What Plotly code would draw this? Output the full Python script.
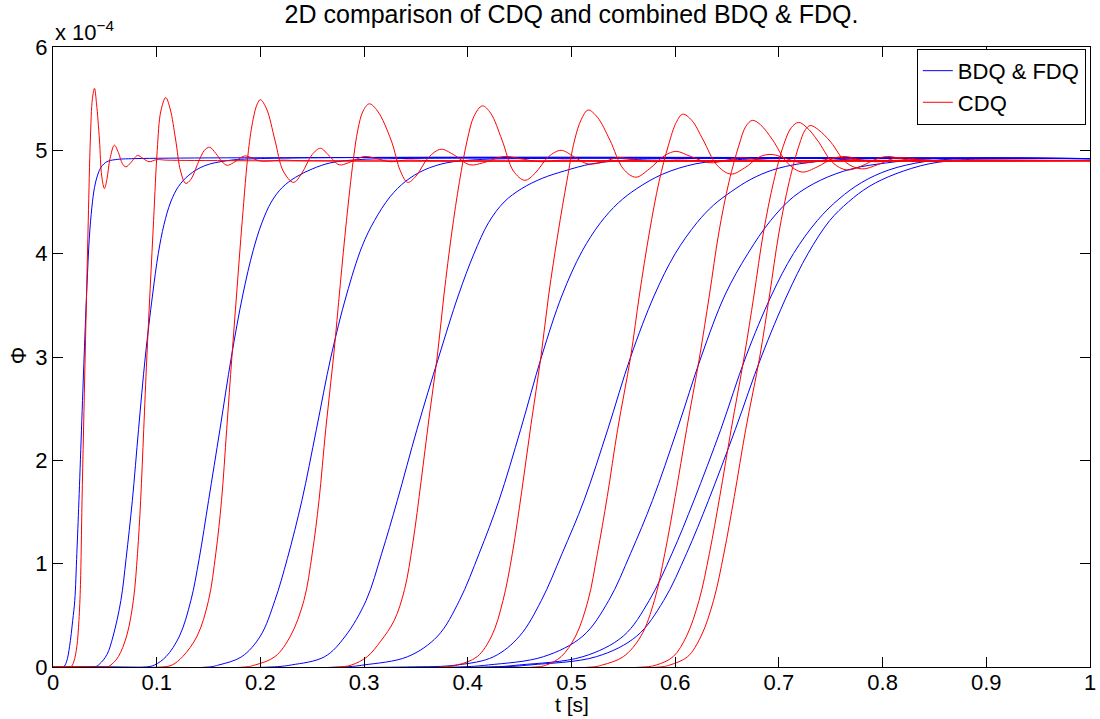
import plotly.graph_objects as go

# values of Phi are in units of 1e-4
blue_t = [
    [0, 0.010, 0.013, 0.016, 0.019, 0.021, 0.023, 0.025, 0.030, 0.0328, 0.035, 0.0375, 0.040, 0.043, 0.0465, 0.052, 0.060, 0.080, 1.0],
    [0, 0.040, 0.045, 0.052, 0.058, 0.0655, 0.0705, 0.0765, 0.0825, 0.089, 0.096, 0.1015, 0.107, 0.1135, 0.121, 0.131, 0.146, 0.168, 0.20, 1.0],
    [0, 0.090, 0.098, 0.109, 0.122, 0.133, 0.141, 0.150, 0.161, 0.172, 0.183, 0.193, 0.2015, 0.2105, 0.221, 0.234, 0.250, 0.268, 0.295, 0.33, 1.0],
    [0, 0.150, 0.160, 0.182, 0.200, 0.214, 0.226, 0.240, 0.254, 0.268, 0.283, 0.298, 0.310, 0.325, 0.340, 0.358, 0.38, 0.41, 0.45, 1.0],
    [0, 0.21, 0.230, 0.262, 0.282, 0.302, 0.317, 0.332, 0.351, 0.372, 0.391, 0.406, 0.420, 0.435, 0.452, 0.472, 0.493, 0.52, 0.56, 0.60, 1.0],
    [0, 0.28, 0.30, 0.342, 0.371, 0.392, 0.411, 0.430, 0.451, 0.471, 0.491, 0.510, 0.528, 0.545, 0.563, 0.588, 0.620, 0.66, 0.70, 1.0],
    [0, 0.34, 0.39, 0.425, 0.450, 0.471, 0.491, 0.512, 0.535, 0.557, 0.580, 0.600, 0.621, 0.637, 0.654, 0.673, 0.694, 0.72, 0.76, 0.80, 1.0],
    [0, 0.39, 0.42, 0.473, 0.511, 0.536, 0.557, 0.578, 0.602, 0.625, 0.648, 0.670, 0.692, 0.714, 0.740, 0.770, 0.805, 0.85, 1.0],
    [0, 0.42, 0.45, 0.511, 0.550, 0.575, 0.597, 0.618, 0.644, 0.668, 0.693, 0.714, 0.737, 0.758, 0.78, 0.806, 0.84, 0.88, 1.0],
    [0, 0.43, 0.46, 0.524, 0.563, 0.589, 0.611, 0.632, 0.658, 0.683, 0.708, 0.728, 0.749, 0.767, 0.787, 0.812, 0.845, 0.88, 0.92, 1.0],
]
blue_phi = [
    [0, 0, 0.05, 0.2, 0.45, 0.645, 1.1, 1.61, 3.0, 3.7, 4.15, 4.45, 4.64, 4.76, 4.84, 4.89, 4.91, 4.92, 4.92],
    [0, 0, 0.03, 0.12, 0.3, 0.645, 1.05, 1.61, 2.3, 3.0, 3.6, 4.0, 4.28, 4.5, 4.65, 4.76, 4.85, 4.9, 4.92, 4.92],
    [0, 0, 0.02, 0.1, 0.3, 0.645, 1.05, 1.61, 2.3, 3.0, 3.6, 4.03, 4.3, 4.5, 4.64, 4.74, 4.82, 4.88, 4.91, 4.92, 4.92],
    [0, 0, 0.02, 0.1, 0.3, 0.645, 1.05, 1.61, 2.3, 3.0, 3.6, 4.07, 4.32, 4.55, 4.7, 4.81, 4.88, 4.91, 4.92, 4.92],
    [0, 0, 0.02, 0.1, 0.3, 0.645, 1.1, 1.61, 2.3, 3.0, 3.6, 4.0, 4.3, 4.5, 4.63, 4.73, 4.8, 4.87, 4.91, 4.92, 4.92],
    [0, 0, 0.02, 0.1, 0.3, 0.645, 1.1, 1.61, 2.3, 3.0, 3.6, 4.02, 4.3, 4.49, 4.63, 4.77, 4.87, 4.91, 4.92, 4.92],
    [0, 0, 0.02, 0.1, 0.3, 0.645, 1.1, 1.61, 2.3, 3.0, 3.6, 4.0, 4.3, 4.47, 4.6, 4.72, 4.81, 4.87, 4.91, 4.92, 4.92],
    [0, 0, 0.02, 0.1, 0.3, 0.645, 1.1, 1.61, 2.3, 3.0, 3.6, 4.0, 4.32, 4.55, 4.71, 4.82, 4.88, 4.92, 4.92],
    [0, 0, 0.02, 0.1, 0.3, 0.645, 1.1, 1.61, 2.3, 3.0, 3.6, 4.0, 4.32, 4.53, 4.69, 4.81, 4.89, 4.92, 4.92],
    [0, 0, 0.02, 0.1, 0.3, 0.645, 1.1, 1.61, 2.3, 3.0, 3.6, 4.0, 4.32, 4.5, 4.65, 4.77, 4.87, 4.91, 4.92, 4.92],
]

red_t = [
    [0, 0.017, 0.020, 0.023, 0.025, 0.0265, 0.028, 0.031, 0.034, 0.036, 0.038, 0.040, 0.042, 0.0448, 0.047, 0.0496, 0.052, 0.055, 0.0592, 0.063, 0.067, 0.0703, 0.075, 0.0815, 0.087, 0.0927, 0.100, 0.11, 1.0],
    [0, 0.052, 0.057, 0.063, 0.071, 0.0775, 0.0815, 0.0845, 0.0875, 0.0905, 0.097, 0.1005, 0.104, 0.1087, 0.113, 0.1183, 0.123, 0.128, 0.133, 0.140, 0.146, 0.151, 0.157, 0.163, 0.168, 0.174, 0.1846, 0.191, 0.198, 0.207, 0.22, 0.24, 1.0],
    [0, 0.105, 0.115, 0.125, 0.139, 0.150, 0.157, 0.1625, 0.1675, 0.1725, 0.177, 0.1825, 0.1885, 0.193, 0.197, 0.200, 0.206, 0.214, 0.222, 0.232, 0.240, 0.250, 0.258, 0.266, 0.276, 0.285, 0.300, 0.312, 0.325, 0.34, 0.37, 1.0],
    [0, 0.185, 0.195, 0.214, 0.229, 0.242, 0.250, 0.2565, 0.263, 0.2705, 0.277, 0.283, 0.2895, 0.294, 0.299, 0.305, 0.313, 0.326, 0.335, 0.342, 0.350, 0.362, 0.374, 0.386, 0.402, 0.415, 0.435, 0.45, 0.47, 0.49, 0.52, 1.0],
    [0, 0.275, 0.288, 0.303, 0.316, 0.329, 0.339, 0.347, 0.355, 0.3625, 0.3705, 0.377, 0.3845, 0.392, 0.3995, 0.406, 0.414, 0.422, 0.433, 0.444, 0.455, 0.465, 0.478, 0.490, 0.502, 0.515, 0.528, 0.545, 0.56, 0.58, 0.60, 0.63, 1.0],
    [0, 0.375, 0.39, 0.409, 0.423, 0.434, 0.443, 0.452, 0.461, 0.4705, 0.478, 0.487, 0.4955, 0.503, 0.5095, 0.516, 0.525, 0.537, 0.550, 0.562, 0.575, 0.590, 0.601, 0.615, 0.633, 0.648, 0.662, 0.68, 0.70, 0.72, 1.0],
    [0, 0.465, 0.476, 0.490, 0.504, 0.516, 0.525, 0.5345, 0.5445, 0.557, 0.5655, 0.575, 0.5845, 0.5935, 0.601, 0.6073, 0.616, 0.627, 0.640, 0.6536, 0.667, 0.682, 0.6935, 0.707, 0.722, 0.74, 0.755, 0.78, 0.80, 1.0],
    [0, 0.52, 0.53, 0.55, 0.567, 0.580, 0.590, 0.600, 0.611, 0.6235, 0.633, 0.642, 0.652, 0.6615, 0.668, 0.6744, 0.682, 0.694, 0.708, 0.7223, 0.737, 0.752, 0.764, 0.778, 0.792, 0.81, 0.83, 0.86, 1.0],
    [0, 0.57, 0.582, 0.598, 0.611, 0.623, 0.633, 0.643, 0.654, 0.6665, 0.676, 0.685, 0.695, 0.7045, 0.712, 0.7191, 0.727, 0.737, 0.752, 0.7655, 0.780, 0.795, 0.805, 0.818, 0.832, 0.85, 0.87, 1.0],
    [0, 0.585, 0.595, 0.612, 0.625, 0.637, 0.647, 0.657, 0.668, 0.6815, 0.691, 0.700, 0.710, 0.7195, 0.7255, 0.7303, 0.738, 0.750, 0.765, 0.780, 0.795, 0.810, 0.821, 0.835, 0.85, 0.87, 0.9, 1.0],
]
red_phi = [
    [0, 0, 0.05, 0.2, 0.45, 0.8, 1.61, 3.0, 4.32, 5.1, 5.5, 5.60, 5.45, 5.1, 4.75, 4.63, 4.72, 4.92, 5.05, 4.98, 4.87, 4.84, 4.88, 4.95, 4.92, 4.89, 4.91, 4.905, 4.90],
    [0, 0, 0.03, 0.1, 0.3, 0.645, 1.1, 1.61, 2.3, 3.0, 4.32, 5.0, 5.38, 5.51, 5.4, 5.1, 4.8, 4.68, 4.72, 4.88, 5.0, 5.03, 4.97, 4.89, 4.855, 4.88, 4.945, 4.93, 4.90, 4.895, 4.905, 4.90, 4.90],
    [0, 0, 0.02, 0.1, 0.3, 0.645, 1.1, 1.61, 2.3, 3.0, 3.6, 4.32, 5.0, 5.3, 5.45, 5.49, 5.4, 5.1, 4.8, 4.69, 4.78, 4.96, 5.02, 4.95, 4.86, 4.88, 4.94, 4.92, 4.89, 4.905, 4.90, 4.90],
    [0, 0, 0.02, 0.1, 0.3, 0.645, 1.1, 1.61, 2.3, 3.0, 3.7, 4.32, 4.9, 5.2, 5.38, 5.45, 5.38, 5.1, 4.8, 4.69, 4.75, 4.93, 5.01, 4.96, 4.86, 4.88, 4.94, 4.92, 4.89, 4.905, 4.90, 4.90],
    [0, 0, 0.02, 0.1, 0.25, 0.45, 0.75, 1.2, 1.8, 2.4, 3.0, 3.6, 4.2, 4.7, 5.1, 5.33, 5.43, 5.36, 5.1, 4.8, 4.71, 4.78, 4.94, 5.0, 4.94, 4.87, 4.88, 4.93, 4.91, 4.89, 4.905, 4.90, 4.90],
    [0, 0, 0.02, 0.1, 0.3, 0.645, 1.1, 1.7, 2.35, 3.0, 3.6, 4.2, 4.7, 5.1, 5.3, 5.39, 5.32, 5.1, 4.82, 4.74, 4.82, 4.95, 4.99, 4.94, 4.88, 4.9, 4.93, 4.91, 4.895, 4.90, 4.90],
    [0, 0, 0.02, 0.1, 0.3, 0.645, 1.1, 1.65, 2.3, 3.0, 3.6, 4.2, 4.7, 5.05, 5.27, 5.35, 5.29, 5.1, 4.86, 4.77, 4.83, 4.94, 4.96, 4.92, 4.88, 4.9, 4.93, 4.905, 4.90, 4.90],
    [0, 0, 0.02, 0.1, 0.3, 0.645, 1.1, 1.65, 2.3, 3.0, 3.6, 4.2, 4.7, 5.05, 5.23, 5.29, 5.25, 5.1, 4.88, 4.79, 4.84, 4.92, 4.94, 4.91, 4.89, 4.90, 4.91, 4.90, 4.90],
    [0, 0, 0.02, 0.1, 0.3, 0.645, 1.1, 1.65, 2.3, 3.0, 3.6, 4.2, 4.7, 5.05, 5.22, 5.27, 5.22, 5.1, 4.88, 4.81, 4.85, 4.92, 4.94, 4.92, 4.89, 4.9, 4.905, 4.90],
    [0, 0, 0.02, 0.1, 0.3, 0.645, 1.1, 1.65, 2.3, 3.0, 3.6, 4.2, 4.7, 5.05, 5.2, 5.24, 5.2, 5.08, 4.88, 4.82, 4.86, 4.92, 4.93, 4.91, 4.89, 4.9, 4.905, 4.90],
]

x_ticks = [0, 0.1, 0.2, 0.3, 0.4, 0.5, 0.6, 0.7, 0.8, 0.9, 1]
x_tick_labels = ["0", "0.1", "0.2", "0.3", "0.4", "0.5", "0.6", "0.7", "0.8", "0.9", "1"]
y_ticks = [0, 1, 2, 3, 4, 5, 6]
y_tick_labels = ["0", "1", "2", "3", "4", "5", "6"]

FONT = "Liberation Sans, Arial, Helvetica, sans-serif"
FS = 22

fig = go.Figure()
for i, (t, p) in enumerate(zip(blue_t, blue_phi)):
    fig.add_trace(go.Scatter(x=t, y=p, mode="lines",
                             line=dict(color="#0000FF", width=1, shape="spline", smoothing=1.0),
                             name="BDQ & FDQ", legendgroup="b", showlegend=(i == 0)))
for i, (t, p) in enumerate(zip(red_t, red_phi)):
    fig.add_trace(go.Scatter(x=t, y=p, mode="lines",
                             line=dict(color="#FF0000", width=1, shape="spline", smoothing=1.0),
                             name="CDQ", legendgroup="r", showlegend=(i == 0)))

axis_common = dict(showline=True, linecolor="black", linewidth=1, mirror="ticks",
                   ticks="inside", ticklen=10, tickcolor="black", tickwidth=1,
                   showgrid=False, zeroline=False, ticklabeloverflow="allow",
                   tickfont=dict(family=FONT, size=FS, color="black"))

fig.update_layout(
    width=1100, height=719,
    margin=dict(l=53, r=4, t=47, b=52),
    paper_bgcolor="white", plot_bgcolor="white",
    font=dict(family=FONT, size=FS, color="black"),
    title=dict(text="2D comparison of CDQ and combined BDQ & FDQ.", x=0.5, xref="paper",
               y=0.992, yref="container", yanchor="top",
               font=dict(family=FONT, size=25, color="black")),
    xaxis=dict(range=[0, 1], tickvals=x_ticks, ticktext=x_tick_labels,
               ticklabelstandoff=-4, **axis_common),
    yaxis=dict(range=[0, 6], tickvals=y_ticks, ticktext=y_tick_labels, **axis_common),
    legend=dict(x=0.996, y=0.997, xanchor="right", yanchor="top",
                bordercolor="black", borderwidth=1, bgcolor="white",
                font=dict(family=FONT, size=22, color="black"), tracegroupgap=0),
    showlegend=True,
    annotations=[
        dict(text="t [s]", xref="paper", yref="paper", x=0.5, y=-0.0597,
             xanchor="center", yanchor="middle", showarrow=False,
             font=dict(family=FONT, size=21, color="black")),
        dict(text="Φ", xref="paper", yref="paper", x=-0.0336, y=0.503,
             xanchor="center", yanchor="middle", showarrow=False, textangle=-90,
             font=dict(family=FONT, size=FS, color="black")),
        dict(text="x 10<sup>−4</sup>", xref="paper", yref="paper", x=0.0, y=1.0,
             xanchor="left", yanchor="bottom", showarrow=False,
             font=dict(family=FONT, size=FS, color="black")),
    ],
)

fig.write_html("out.html")
